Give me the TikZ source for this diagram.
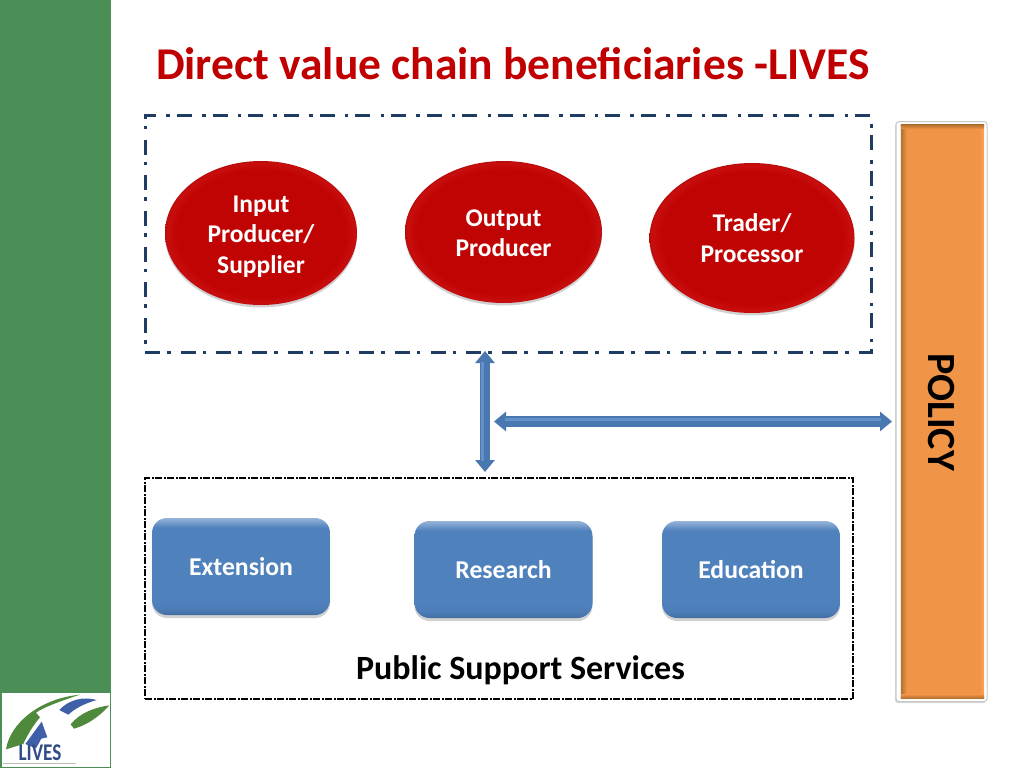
\documentclass[tikz,border=0pt]{standalone}
\usepackage{fontspec}
\setmainfont{Carlito}
\usetikzlibrary{arrows.meta,shadows,shapes.geometric,calc}
\definecolor{barGreen}{HTML}{4C8F56}
\definecolor{titleRed}{HTML}{C00000}
\definecolor{navyLine}{HTML}{1F3C62}
\definecolor{blueFill}{HTML}{4F81BD}
\definecolor{orangeFill}{HTML}{F09447}
\definecolor{orangeDark}{HTML}{B4702E}
\definecolor{orangeLight}{HTML}{FFA552}
\definecolor{logoGreen}{HTML}{4F8A3C}
\definecolor{logoBlue}{HTML}{3F5FA8}
\definecolor{ballCore}{HTML}{C00404}
\definecolor{ballRim}{HTML}{C80E0E}
\definecolor{ballEdge}{HTML}{B80C0C}
\pgfdeclareverticalshading{btnShade}{100bp}{
  color(0bp)=(blueFill!85!black);
  color(25bp)=(blueFill!85!black);
  color(28bp)=(blueFill!96!black);
  color(32bp)=(blueFill);
  color(70bp)=(blueFill);
  color(75bp)=(blueFill!60!white);
  color(100bp)=(blueFill!60!white)}
\pgfdeclareradialshading{ballShade}{\pgfpoint{0bp}{0bp}}{
  color(0bp)=(ballCore);
  color(22bp)=(ballCore);
  color(24.5bp)=(ballRim);
  color(25bp)=(ballEdge);
  color(50bp)=(ballEdge)}
\tikzset{
  ballnode/.style={ellipse,inner sep=0pt,shading=ballShade,
    drop shadow={shadow xshift=0pt,shadow yshift=-2.5pt,fill=black!45,opacity=.4},
    text=white,font=\fontsize{25.5}{30.5}\selectfont\bfseries,align=center},
  btn/.style={rectangle,rounded corners=15pt,inner sep=0pt,shading=btnShade,
    minimum width=178pt,minimum height=97pt,
    drop shadow={shadow xshift=0pt,shadow yshift=-3pt,fill=black!45,opacity=.4},
    text=white,font=\fontsize{25.7}{29}\selectfont\bfseries},
  linkarrow/.style={draw=blueFill,line width=10.5pt,
    {Triangle[length=12pt,width=19pt]}-{Triangle[length=12pt,width=19pt]}},
  dashbox/.style={draw=navyLine,line width=3pt,dash pattern=on 15pt off 7pt on 3.5pt off 10.2pt},
  supportbox/.style={draw=black,line width=1.4pt,dash pattern=on 7pt off 1.5pt on 2pt off 1.5pt},
}
\begin{document}
\begin{tikzpicture}[x=1pt,y=-1pt]
\useasboundingbox (0,0) rectangle (1024,768);
\fill[white] (0,0) rectangle (1024,768);
\fill[barGreen] (0,0) rectangle (111,768);
% logo
\fill[white] (2,693) rectangle (110,766.5);
\begin{scope}[shift={(0,680)},x=0.3333pt,y=-0.3333pt]
 \fill[logoGreen] (18,208) .. controls (30,130) and (120,55) .. (240,44) .. controls (175,65) and (125,85) .. (108,98) -- (120,112) .. controls (100,135) and (82,165) .. (70,192) -- cycle;
 \fill[logoBlue] (178,90) .. controls (205,60) and (250,48) .. (290,60) .. controls (255,70) and (225,85) .. (205,104) -- cycle;
 \fill[logoGreen] (212,133) .. controls (240,98) and (285,82) .. (328,76) .. controls (300,108) and (262,135) .. (222,146) -- cycle;
 \fill[logoBlue] (76,192) -- (125,125) -- (142,172) -- (124,176) -- (108,205) -- cycle;
 \node[text=logoBlue!80!black,font=\fontsize{24}{24}\selectfont\bfseries,inner sep=0pt,xscale=.8] (logotext) at (120,218) {LIVES};
 \draw[black!25,line width=1pt] (10,249) -- (228,249);
\end{scope}
% title
\node[text=titleRed,font=\fontsize{45.5}{52}\selectfont\bfseries,inner sep=0pt] (title) at (513,64) {Direct value chain beneficiaries -LIVES};
% top group
\node[dashbox,rectangle,inner sep=0pt,minimum width=726pt,minimum height=237pt] (chainbox) at (508,233.5) {};
\node[ballnode,minimum width=192pt,minimum height=144pt,text depth=0pt] (input) at (261,233) {};
\node[text=white,font=\fontsize{25.5}{30.5}\selectfont\bfseries,align=center,inner sep=0pt] (inputtext) at (input.center) [yshift=-3.5pt] {Input\\Producer/\\Supplier};
\node[ballnode,minimum width=197pt,minimum height=142pt] (output) at (503.5,232) {};
\node[text=white,font=\fontsize{25.5}{30.5}\selectfont\bfseries,align=center,inner sep=0pt] (outputtext) at (output.center) [yshift=-1pt] {Output\\Producer};
\node[ballnode,minimum width=205pt,minimum height=150pt] (trader) at (752,238) {Trader/\\Processor};
% support
\node[supportbox,rectangle,inner sep=0pt,minimum width=708pt,minimum height=221pt] (supportBox) at (499,588.5) {};
\node[btn] (extension) at (241,566.5) {\raisebox{-1pt}{Extension}};
\node[btn] (research) at (503.5,569.5) {\raisebox{-1pt}{Research}};
\node[btn] (education) at (751,569.5) {\raisebox{-1pt}{Education}};
\node[font=\fontsize{34}{40}\selectfont\bfseries,inner sep=0pt] (pss) at (520.5,670) {Public Support Services};
% policy
\node[rectangle,rounded corners=3pt,fill=white,draw=black!22,line width=1pt,minimum width=91pt,minimum height=580pt,inner sep=0pt,
  drop shadow={shadow xshift=-1pt,shadow yshift=-1.5pt,fill=black!45,opacity=.35}] (policyframe) at (941.5,411.5) {};
\node[rectangle,fill=orangeFill,minimum width=83pt,minimum height=573pt,inner sep=0pt] (policy) at (942.5,411.5) {};
\shade[left color=orangeDark,right color=orangeFill] (policy.north west) rectangle ($(policy.south west)+(6,0)$);
\shade[left color=orangeFill,right color=orangeLight] ($(policy.north east)+(-5,0)$) rectangle (policy.south east);
\shade[top color=orangeDark,bottom color=orangeFill] (policy.north west) rectangle ($(policy.north east)+(0,4)$);
\shade[top color=orangeFill,bottom color=orangeDark] ($(policy.south west)+(0,-4)$) rectangle (policy.south east);
\node[rotate=-90,font=\fontsize{40}{44}\selectfont\bfseries,inner sep=0pt] (policytext) at (941,412) {POLICY};
% arrows
\coordinate (vtop) at (485,351);
\coordinate (vbot) at (485,472);
\coordinate (hleft) at (494,421.5);
\coordinate (hright) at (892,421.5);
\draw[linkarrow,draw=blueFill!93!black] (vtop) -- (vbot);
\draw[blueFill!88!white,line width=3pt,shorten <=11pt,shorten >=11pt] ($(vtop)+(-2.5,0)$) -- ($(vbot)+(-2.5,0)$);
\draw[linkarrow,draw=blueFill!93!black] (hleft) -- (hright);
\draw[blueFill!88!white,line width=3pt,shorten <=11pt,shorten >=11pt] ($(hleft)+(0,-2.5)$) -- ($(hright)+(0,-2.5)$);
\end{tikzpicture}
\end{document}
